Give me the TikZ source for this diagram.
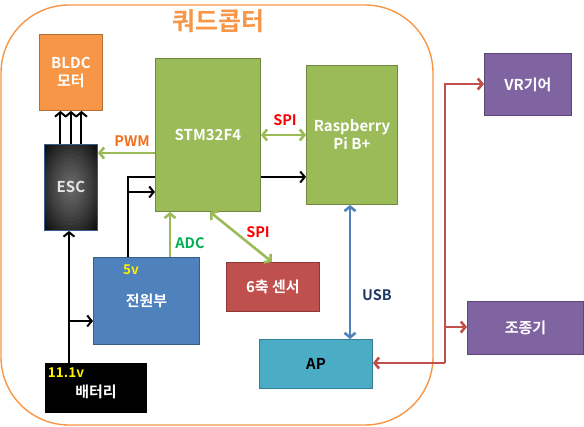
\documentclass[tikz,border=0pt]{standalone}
\usepackage{fontspec}
\setmainfont{Noto Sans CJK KR}[BoldFont={* Bold}]
\usetikzlibrary{arrows.meta,backgrounds}
\definecolor{cOrange}{HTML}{F79646}
\definecolor{cOrangeD}{HTML}{B66D31}
\definecolor{cGreen}{HTML}{9BBB59}
\definecolor{cGreenD}{HTML}{71893F}
\definecolor{cBlue}{HTML}{4F81BD}
\definecolor{cBlueD}{HTML}{385D8A}
\definecolor{cRed}{HTML}{C0504D}
\definecolor{cRedD}{HTML}{8C3836}
\definecolor{cPurple}{HTML}{8064A2}
\definecolor{cPurpleD}{HTML}{5C4776}
\definecolor{cAqua}{HTML}{4BACC6}
\definecolor{cAquaD}{HTML}{357D91}
\definecolor{cPWM}{HTML}{F0701E}
\definecolor{cADC}{HTML}{00B050}
\definecolor{cUSB}{HTML}{1F3864}
\definecolor{escBase}{HTML}{0A0A0A}
\tikzset{
  barb/.tip={Straight Barb[length=4.5pt,width=11pt]},
  box/.style={draw, line width=0.9pt, anchor=north west, inner sep=0pt, align=center,
    text=white, font=\bfseries\fontsize{15}{18}\selectfont},
  lbl/.style={font=\bfseries\fontsize{14.5}{16}\selectfont, inner sep=0pt},
  blk/.style={draw=black, line width=2pt, -{barb}},
  gline/.style={draw=cGreen, line width=2.6pt},
  bline/.style={draw=cBlue, line width=2.6pt},
  rline/.style={draw=cRed, line width=2.6pt},
  glow/.style={fill=white, fill opacity=0.036},
}
\begin{document}
\begin{tikzpicture}[x=1pt,y=-1pt]
\useasboundingbox (0,0) rectangle (584,427);
% outer frame
\draw[cOrange, line width=1.4pt, rounded corners=68pt] (1,5) rectangle (433,425);
\node[lbl, text=cOrange, font=\bfseries\fontsize{25}{28}\selectfont] (title) at (218,21) {쿼드콥터};

% boxes
\node[box, fill=cOrange, draw=cOrangeD, minimum width=63pt, minimum height=76pt] (bldc) at (39,34) {BLDC\\모터};
\node[box, fill=escBase, draw=cBlueD, minimum width=53pt, minimum height=86pt] (esc) at (44,144) {};
\begin{scope}
\clip (esc.north west) rectangle (esc.south east);
\foreach \r in {36,33.5,...,3} {
  \fill[glow] (esc.center) ellipse ({\r*1pt} and {\r*1.62pt});
}
\end{scope}
\draw[cBlueD, line width=0.9pt] (esc.north west) rectangle (esc.south east);
\node[lbl, text=white!90!black, font=\bfseries\fontsize{15}{18}\selectfont] (esclbl) at (esc.center) {ESC};
\node[box, fill=cGreen, draw=cGreenD, minimum width=105pt, minimum height=153pt] (stm) at (155,58) {STM32F4};
\node[box, fill=cGreen, draw=cGreenD, minimum width=91pt, minimum height=139pt] (rpi) at (306,65) {Raspberry\\Pi B+};
\node[box, fill=cPurple, draw=cPurpleD, minimum width=87pt, minimum height=62pt] (vr) at (484,53) {VR기어};
\node[box, fill=cPurple, draw=cPurpleD, minimum width=116pt, minimum height=53pt] (ctrl) at (467,301) {조종기};
\node[box, fill=cAqua, draw=cAquaD, text=black, minimum width=113pt, minimum height=49pt] (ap) at (259,339) {AP};
\node[box, fill=cRed, draw=cRedD, minimum width=93pt, minimum height=49pt] (sensor) at (226,262) {6축 센서};
\node[box, fill=cBlue, draw=cBlueD, minimum width=106pt, minimum height=87pt] (power) at (93,257) {전원부};
\node[box, fill=black, draw=black, minimum width=101pt, minimum height=49pt] (batt) at (45,363) {};
\node[lbl, text=white, font=\bfseries\fontsize{15}{18}\selectfont] (battlbl) at (96,392) {배터리};
\node[lbl, text=yellow, font=\bfseries\fontsize{13.5}{15}\selectfont] (v11) at (66,373) {11.1v};
\node[lbl, text=yellow, font=\bfseries\fontsize{13.5}{15}\selectfont] (v5) at (131,270) {5v};

% power line behind STM
\begin{scope}[on background layer]
\draw[blk] (power.north -| 128,0) -- (128,177) -- (rpi.west |- 0,177);
\end{scope}
\draw[blk] (128,192) -- (stm.west |- 0,192);

% ESC to motor
\draw[blk] ([xshift=-10.5pt]esc.north) -- ([xshift=-10.5pt]esc.north |- bldc.south);
\draw[blk] (esc.north) -- (esc.north |- bldc.south);
\draw[blk] ([xshift=10.5pt]esc.north) -- ([xshift=10.5pt]esc.north |- bldc.south);

% battery
\draw[blk] (batt.north -| 69,0) -- (esc.south -| 69,0);
\draw[blk] (69,321) -- (power.west |- 0,321);

% PWM
\draw[gline, -{barb}] (stm.west |- 0,153) -- (esc.east |- 0,153);
\node[lbl, text=cPWM] (pwm) at (132,141) {PWM};
% SPI stm-rpi
\draw[gline, {barb}-{barb}] (stm.east |- 0,135) -- (rpi.west |- 0,135);
\node[lbl, text=red] (spi1) at (285,120) {SPI};
% ADC
\draw[gline, -{barb}] (power.north -| 170,0) -- (stm.south -| 170,0);
\node[lbl, text=cADC] (adc) at (190,243) {ADC};
% SPI stm-sensor
\draw[gline, {barb}-{barb}] (stm.south -| 210,0) -- (sensor.north -| 272,0);
\node[lbl, text=red] (spi2) at (258,232) {SPI};
% USB
\draw[bline, {barb}-{barb}] (rpi.south -| 350,0) -- (ap.north -| 350,0);
\node[lbl, text=cUSB] (usb) at (377,295) {USB};

% red links
\coordinate (j) at (445,363);
\draw[rline, -{barb}] (j) -- (ap.east |- j);
\draw[rline, -{barb}] (j) -- (445,84) -- (vr.west |- 0,84);
\draw[rline, -{barb}] (445,327) -- (ctrl.west |- 0,327);
\end{tikzpicture}
\end{document}
